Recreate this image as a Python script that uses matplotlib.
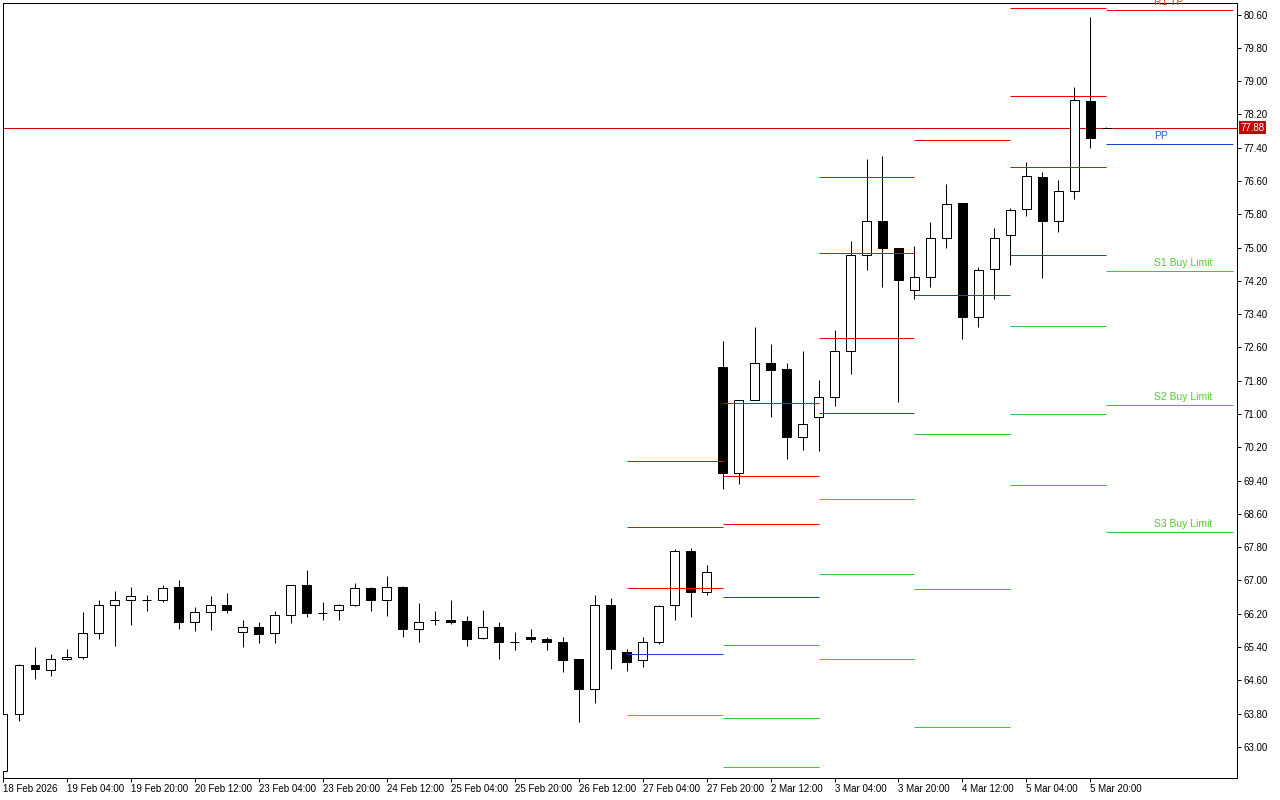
import matplotlib

matplotlib.use("Agg")
import matplotlib.pyplot as plt
import matplotlib.transforms as mtransforms
import numpy as np
from matplotlib.patches import Rectangle

# H4 candles, 18 Feb 12:00 .. 6 Mar 00:00
OPENS = [62.43, 63.78, 64.96, 64.84, 65.10, 65.16, 65.73, 66.40, 66.54, 66.54,
         66.54, 66.83, 65.99, 66.23, 66.42, 65.77, 65.87, 65.73, 66.18, 66.88,
         66.21, 66.28, 66.42, 66.81, 66.52, 66.85, 65.82, 66.04, 66.04, 66.02,
         65.62, 65.87, 65.51, 65.65, 65.58, 65.53, 65.10, 64.38, 66.42, 65.29,
         65.08, 65.53, 66.40, 67.71, 66.71, 72.12, 69.59, 71.33, 72.22, 72.07,
         70.44, 70.92, 71.42, 72.51, 74.82, 75.63, 74.99, 73.97, 74.29, 75.22,
         76.07, 73.32, 74.48, 75.30, 75.92, 76.69, 75.63, 76.35, 78.53, 77.88]
HIGHS = [63.78, 65.00, 65.41, 65.22, 65.34, 66.23, 66.54, 66.74, 66.83, 66.66,
         66.88, 67.00, 66.35, 66.62, 66.69, 66.06, 65.99, 66.26, 66.90, 67.24,
         66.47, 66.43, 66.93, 66.83, 67.10, 66.87, 66.45, 66.26, 66.54, 66.14,
         66.28, 65.99, 65.77, 65.82, 65.63, 65.63, 65.10, 66.66, 66.57, 65.34,
         65.63, 66.40, 67.75, 67.77, 67.36, 72.75, 71.34, 73.08, 72.68, 72.22,
         72.51, 71.81, 73.01, 75.15, 77.12, 77.20, 74.99, 75.03, 75.61, 76.52,
         76.07, 74.53, 75.46, 75.95, 77.05, 76.81, 76.62, 78.85, 80.55, 77.89]
LOWS = [62.43, 63.63, 64.64, 64.71, 65.08, 65.12, 65.60, 65.43, 65.93, 66.27,
        66.47, 65.84, 65.79, 65.81, 66.21, 65.39, 65.49, 65.50, 65.97, 66.11,
        66.06, 66.04, 66.38, 66.26, 66.14, 65.63, 65.53, 65.92, 65.94, 65.43,
        65.58, 65.10, 65.32, 65.51, 65.32, 64.79, 63.60, 64.06, 64.88, 64.83,
        64.92, 65.46, 66.05, 66.11, 66.66, 69.20, 69.32, 71.33, 70.93, 69.92,
        70.14, 70.12, 71.20, 71.97, 74.47, 74.06, 71.29, 73.76, 74.05, 74.98,
        72.80, 73.08, 73.76, 74.57, 75.75, 74.26, 75.37, 76.16, 77.40, 77.87]
CLOSES = [63.78, 64.96, 64.86, 65.10, 65.17, 65.73, 66.40, 66.54, 66.62, 66.52,
          66.81, 65.99, 66.23, 66.42, 66.30, 65.87, 65.70, 66.18, 66.88, 66.21,
          66.21, 66.42, 66.81, 66.52, 66.83, 65.82, 65.99, 66.04, 66.01, 65.60,
          65.87, 65.51, 65.51, 65.58, 65.53, 65.08, 64.38, 66.42, 65.36, 65.05,
          65.53, 66.38, 67.71, 66.71, 67.19, 69.59, 71.33, 72.22, 72.06, 70.44,
          70.75, 71.42, 72.51, 74.82, 75.63, 75.00, 74.23, 74.29, 75.22, 76.04,
          73.32, 74.45, 75.22, 75.90, 76.71, 75.63, 76.35, 78.54, 77.64, 77.88]

TICK_BARS = list(range(0, 70, 4))
TICK_LABELS = ["18 Feb 2026", "19 Feb 04:00", "19 Feb 20:00", "20 Feb 12:00",
               "23 Feb 04:00", "23 Feb 20:00", "24 Feb 12:00", "25 Feb 04:00",
               "25 Feb 20:00", "26 Feb 12:00", "27 Feb 04:00", "27 Feb 20:00",
               "2 Mar 12:00", "3 Mar 04:00", "3 Mar 20:00", "4 Mar 12:00",
               "5 Mar 04:00", "5 Mar 20:00"]

# daily pivot levels, one entry per day (27 Feb .. 6 Mar)
DAY_START = [39, 45, 51, 57, 63, 69]
DAY_END = [45, 51, 57, 63, 69, 76.9]
R3 = [69.87, 71.26, 76.70, np.nan, 80.76, np.nan]
R2 = [68.28, 69.51, 74.87, np.nan, 78.65, np.nan]
R1 = [66.82, 68.35, 72.83, 77.59, 76.94, 80.71]
PP = [65.23, 66.60, 71.02, 73.86, 74.82, 77.49]
S1 = [63.76, 65.45, 68.96, 70.52, 73.12, 74.44]
S2 = [np.nan, 63.69, 67.15, 66.79, 71.00, 71.22]
S3 = [np.nan, 62.51, 65.11, 63.47, 69.29, 68.16]

CURRENT_PRICE = 77.88
LEVEL_LABELS = {"R1 TP": (R1[-1], "#ff3a10"), "PP": (PP[-1], "#2a5ad8"),
                "S1 Buy Limit": (S1[-1], "#52cc2a"), "S2 Buy Limit": (S2[-1], "#52cc2a"),
                "S3 Buy Limit": (S3[-1], "#52cc2a")}

PX = 0.72  # one pixel in points at dpi 100
RED, BLUE, GREEN = "#ff0000", "#1448c8", "#32cd32"


def draw_candles(ax):
    xs = np.arange(len(OPENS))
    ax.vlines(xs, LOWS, HIGHS, color="black", lw=PX, zorder=2)
    w = 0.56
    for x, o, c in zip(xs, OPENS, CLOSES):
        face = "white" if c >= o else "black"
        ax.add_patch(Rectangle((x - w / 2, min(o, c)), w, abs(c - o),
                               facecolor=face, edgecolor="black", lw=PX, zorder=3))


def draw_pivots(ax):
    for levels, color in [(R3, RED), (R2, RED), (R1, RED), (PP, BLUE),
                          (S1, GREEN), (S2, GREEN), (S3, GREEN)]:
        for start, end, lvl in zip(DAY_START, DAY_END, levels):
            if not np.isnan(lvl):
                ax.hlines(lvl, start, end, colors=color, lw=PX, zorder=4)
    for text, (lvl, color) in LEVEL_LABELS.items():
        ax.annotate(text, (72, lvl), xytext=(0, 2), textcoords="offset points",
                    ha="left", va="bottom", color=color, fontsize=7.5,
                    annotation_clip=False, zorder=5)


def main():
    plt.rcParams["font.family"] = ["Liberation Sans", "DejaVu Sans"]
    fig = plt.figure(figsize=(12.8, 8), dpi=100)
    ax = fig.add_axes([3 / 1280, 22 / 800, 1234 / 1280, 775 / 800])

    draw_candles(ax)
    draw_pivots(ax)

    ax.axhline(CURRENT_PRICE, color="#d40000", lw=PX, zorder=1)
    trans = mtransforms.blended_transform_factory(ax.transAxes, ax.transData)
    ax.text(1.0025, CURRENT_PRICE, f"{CURRENT_PRICE:.2f}", transform=trans,
            ha="left", va="center", color="white", fontsize=7,
            bbox=dict(boxstyle="square,pad=0.15", facecolor="#c80000", edgecolor="none"))

    ax.set_xlim(0.044, 0.044 + 1234 / 16)
    ax.set_ylim(62.25, 80.88)

    ax.yaxis.tick_right()
    ax.set_yticks(np.round(np.arange(63.0, 81.0, 0.8), 2))
    ax.set_yticklabels([f"{v:.2f}" for v in np.round(np.arange(63.0, 81.0, 0.8), 2)])
    ax.set_xticks(TICK_BARS)
    ax.set_xticklabels(TICK_LABELS, ha="left")
    ax.tick_params(axis="both", labelsize=7, length=3, width=PX, direction="out",
                   color="black", labelcolor="black")
    ax.tick_params(axis="y", pad=1.5)
    ax.tick_params(axis="x", pad=1.5)
    for spine in ax.spines.values():
        spine.set_linewidth(PX)
        spine.set_color("black")

    fig.savefig("out.png", dpi=100, facecolor="white")


if __name__ == "__main__":
    main()
